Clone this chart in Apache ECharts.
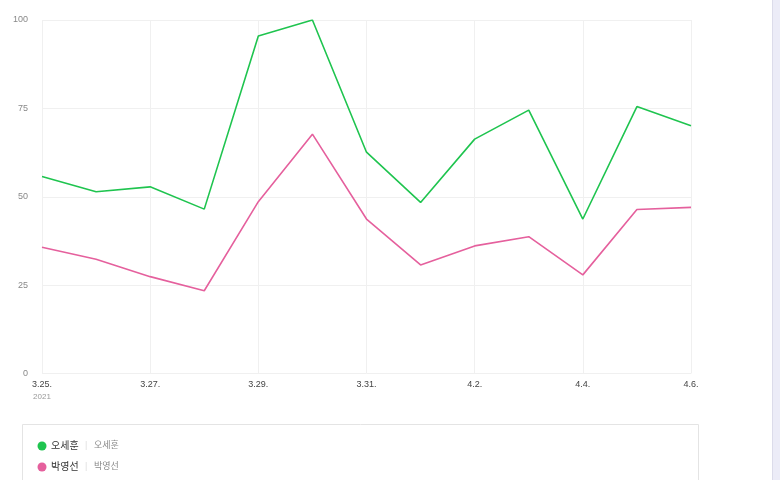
<!DOCTYPE html>
<html><head><meta charset="utf-8">
<script src="https://cdn.jsdelivr.net/npm/echarts@6/dist/echarts.min.js"></script>
<style>html,body{margin:0;padding:0;background:#fff;}#c{width:780px;height:480px;}</style>
</head><body><div id="c"></div>
<script>
const categories = ['3.25.','3.26.','3.27.','3.28.','3.29.','3.30.','3.31.','4.1.','4.2.','4.3.','4.4.','4.5.','4.6.'];
const labelText = ['3.25.','3.26.','3.27.','3.28.','3.29.','3.30.','3.31.','4.1.','4.2.','4.3.','4.4.','4.5.','4.6.'];
const shownLabels = ['3.25.','3.27.','3.29.','3.31.','4.2.','4.4.','4.6.'];
const yearLabel = '2021';
const seriesNames = ['오세훈','박영선'];
const ohValues = [55.7,51.4,52.8,46.5,95.5,100,62.6,48.4,66.3,74.5,43.7,75.5,70.1];
const parkValues = [35.7,32.3,27.4,23.4,48.6,67.7,43.7,30.7,36.1,38.7,27.9,46.4,47.0];
const yTicks = [0,25,50,75,100];
const colors = ['#1fc44f','#e5609d'];

const xLabelMap = {'3.25.':'3.26.','3.27.':'3.27.','3.29.':'3.29.','3.31.':'3.31.','4.2.':'4.2.','4.4.':'4.4.','4.6.':'4.6.'};

const chart = echarts.init(document.getElementById('c'));
const font = 'Arial, "Noto Sans CJK KR", sans-serif';
chart.setOption({
  animation:false,
  textStyle:{fontFamily:font},
  grid:{left:42,right:89,top:20,bottom:106.5},
  xAxis:{
    type:'category',boundaryGap:false,data:categories,
    axisLine:{show:false},axisTick:{show:false},
    splitLine:{show:true,interval:1,lineStyle:{color:'#f0f0f0',width:1}},
    axisLabel:{interval:1,margin:7,fontSize:9,color:'#444',fontFamily:font,
      formatter:function(v,i){ return i===0 ? v+'\n{y|'+yearLabel+'}' : v; },
      rich:{y:{fontSize:8,color:'#999',lineHeight:14,fontFamily:font}}
    }
  },
  yAxis:{
    type:'value',min:0,max:100,interval:25,
    axisLine:{show:false},axisTick:{show:false},
    splitLine:{lineStyle:{color:'#f0f0f0',width:1}},
    axisLabel:{fontSize:9,color:'#888',margin:14,fontFamily:font}
  },
  legend:{show:false},
  series:[
    {name:seriesNames[0],type:'line',data:ohValues,symbol:'none',lineStyle:{color:colors[0],width:1.6},itemStyle:{color:colors[0]}},
    {name:seriesNames[1],type:'line',data:parkValues,symbol:'none',lineStyle:{color:colors[1],width:1.6},itemStyle:{color:colors[1]}}
  ],
  graphic:[
    {type:'rect',shape:{x:22.5,y:424.5,width:676,height:70},style:{fill:'#fff',stroke:'#e4e4e4',lineWidth:1}},
    {type:'circle',shape:{cx:42,cy:446,r:4.5},style:{fill:colors[0]}},
    {type:'text',x:51,y:446,style:{text:seriesNames[0],fontSize:10,fill:'#333',verticalAlign:'middle',fontFamily:font}},
    {type:'text',x:85,y:446,style:{text:'|',fontSize:9,fill:'#ddd',verticalAlign:'middle',fontFamily:font}},
    {type:'text',x:94,y:446,style:{text:seriesNames[0],fontSize:9,fill:'#888',verticalAlign:'middle',fontFamily:font}},
    {type:'circle',shape:{cx:42,cy:467,r:4.5},style:{fill:colors[1]}},
    {type:'text',x:51,y:467,style:{text:seriesNames[1],fontSize:10,fill:'#333',verticalAlign:'middle',fontFamily:font}},
    {type:'text',x:85,y:467,style:{text:'|',fontSize:9,fill:'#ddd',verticalAlign:'middle',fontFamily:font}},
    {type:'text',x:94,y:467,style:{text:seriesNames[1],fontSize:9,fill:'#888',verticalAlign:'middle',fontFamily:font}},
    {type:'rect',shape:{x:773,y:0,width:7,height:480},style:{fill:'#ececf7'}},
    {type:'line',shape:{x1:772.5,y1:0,x2:772.5,y2:480},style:{stroke:'#dcdcea',lineWidth:1}}
  ]
});
</script></body></html>
